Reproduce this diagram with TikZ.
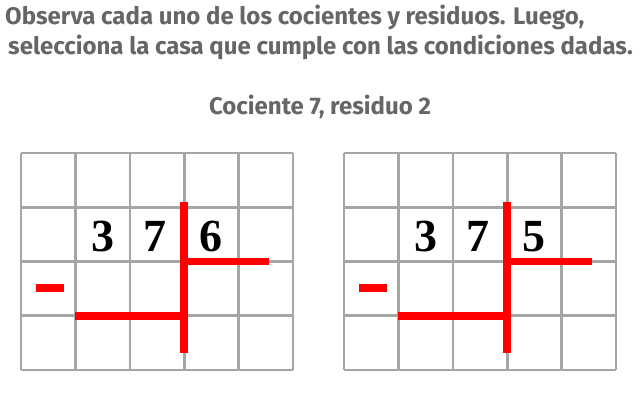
\documentclass[tikz,border=0pt]{standalone}
\usepackage{fontspec}
\setmainfont{Fira Sans}
\newfontfamily\digitfont{Liberation Serif}
\usetikzlibrary{positioning}
\definecolor{hdgray}{HTML}{666666}
\definecolor{gridgray}{HTML}{A6A6A6}
\definecolor{divred}{HTML}{FF0000}

\begin{document}
\begin{tikzpicture}[
    x=1pt, y=-1pt,
    title/.style={anchor=base west, inner sep=0pt, text=hdgray,
        font=\fontsize{24}{29}\selectfont\bfseries},
    gridline/.style={draw=gridgray, line width=2.6pt},
    bracket/.style={draw=divred, line width=7.5pt},
    digit/.style={anchor=base, inner sep=0pt,
        font=\fontsize{46}{46}\selectfont\digitfont\bfseries},
]
\useasboundingbox (0,0) rectangle (642,409);

% ---- instructions ----
\node[title] (line1) at (5,25) {Observa cada uno de los cocientes y residuos. Luego,};
\node[title] (line2) at (8,55) {selecciona la casa que cumple con las condiciones dadas.};
\node[title, anchor=base] (cond) at (320,115) {Cociente 7, residuo 2};

% ---- two division boards, left and right ----
\foreach \ox/\dv/\nm in {21/6/left, 344/5/right}{
  \begin{scope}[shift={(\ox,153)}, x=54.4pt, y=-54.25pt]
    \foreach \i in {0,...,5} \draw[gridline] (\i,0) -- (\i,4);
    \foreach \j in {0,...,4} \draw[gridline] (0,\j) -- (5,\j);
    % dividend and divisor
    \node[digit] (\nm-d1) at (1.5,1.82) {3};
    \node[digit] (\nm-d2) at (2.47,1.82) {7};
    \node[digit] (\nm-dv) at (3.5,1.82) {\dv};
    % red bracket and minus sign
    \draw[bracket] (3,0.9) -- (3,3.69);
    \draw[bracket] (3,2) -- (4.56,2);
    \draw[bracket] (1,3) -- (3,3);
    \draw[bracket] (0.28,2.49) -- (0.79,2.49);
  \end{scope}
}

\end{tikzpicture}
\end{document}
